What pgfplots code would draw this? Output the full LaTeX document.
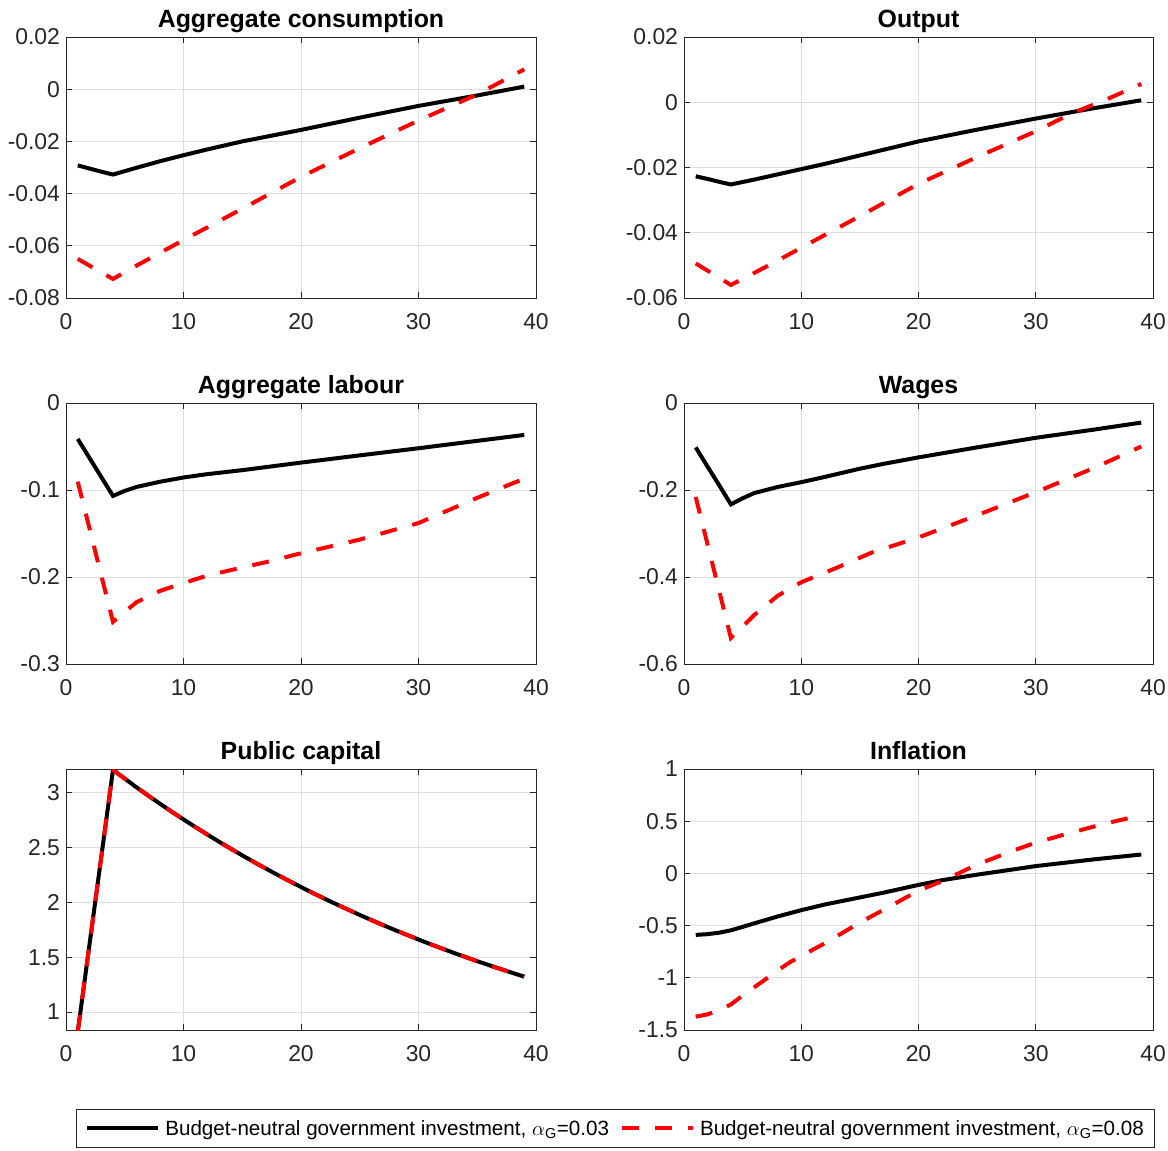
\documentclass[border=0pt]{standalone}
\usepackage{fontspec}
\setmainfont{Liberation Sans}
\usepackage{pgfplots}
\pgfplotsset{compat=1.18}

\definecolor{axisgray}{RGB}{38,38,38}
\definecolor{gridgray}{RGB}{222,222,222}

\pgfplotsset{
  irf/.style={
    scale only axis, width=470bp, height=261bp, anchor=north west,
    xmin=0, xmax=40, xtick={0,10,20,30,40},
    grid=major, major grid style={draw=gridgray, line width=0.9bp},
    axis line style={draw=axisgray, line width=1bp},
    tick style={draw=axisgray, line width=1bp},
    major tick length=6bp, tick align=inside,
    tick label style={font=\fontsize{23}{27}\selectfont, text=axisgray},
    /pgf/number format/assume math mode=true,
    yticklabel style={/pgf/number format/fixed, /pgf/number format/precision=2, xshift=-2.5bp},
    scaled y ticks=false,
    xticklabel style={yshift=-12bp},
    every axis title shift=0pt,
    title style={font=\bfseries\fontsize{25}{30}\selectfont, inner sep=0pt,
                 text depth=0.22em, yshift=7.5bp},
  },
  blk/.style={black, line width=4bp},
  rdd/.style={red, line width=4bp, dash pattern=on 17bp off 16bp},
}

\begin{document}
\begin{tikzpicture}
\path[use as bounding box] (0bp,0bp) rectangle (1168bp,-1151bp);

% Aggregate consumption
\begin{axis}[irf, at={(66bp,-37bp)}, title={Aggregate consumption},
  ymin=-0.08, ymax=0.02, ytick={-0.08,-0.06,-0.04,-0.02,0,0.02}]
\addplot[blk] coordinates {(1,-0.0292)(2,-0.0304)(3,-0.0316)(4,-0.0327)(6,-0.0301)(8,-0.0276)(10,-0.0253)(12,-0.0231)(15,-0.0200)(20,-0.0156)(25,-0.0109)(30,-0.0064)(35,-0.0024)(39,0.0010)};
\addplot[rdd] coordinates {(1,-0.0650)(2,-0.0676)(3,-0.0702)(4,-0.0727)(6,-0.0676)(8,-0.0627)(10,-0.0578)(12,-0.0530)(15,-0.0458)(20,-0.0336)(25,-0.0226)(30,-0.0120)(35,-0.0020)(39,0.0076)};
\end{axis}

% Output
\begin{axis}[irf, at={(684bp,-37bp)}, width=469bp, title={Output},
  ymin=-0.06, ymax=0.02, ytick={-0.06,-0.04,-0.02,0,0.02}]
\addplot[blk] coordinates {(1,-0.0227)(2,-0.0235)(3,-0.0244)(4,-0.0252)(6,-0.0237)(8,-0.0221)(10,-0.0205)(12,-0.0189)(15,-0.0163)(20,-0.0120)(25,-0.0084)(30,-0.0050)(35,-0.0018)(39,0.0006)};
\addplot[rdd] coordinates {(1,-0.0494)(2,-0.0516)(3,-0.0538)(4,-0.0560)(6,-0.0523)(8,-0.0485)(10,-0.0446)(12,-0.0407)(15,-0.0349)(20,-0.0250)(25,-0.0168)(30,-0.0089)(33,-0.0035)(36,0.0008)(39,0.0056)};
\end{axis}

% Aggregate labour
\begin{axis}[irf, at={(66bp,-403bp)}, title={Aggregate labour},
  ymin=-0.3, ymax=0, ytick={-0.3,-0.2,-0.1,0}]
\addplot[blk] coordinates {(1,-0.0413)(2,-0.0632)(3,-0.0850)(4,-0.1068)(5,-0.1010)(6,-0.0965)(8,-0.0905)(10,-0.0856)(12,-0.0818)(15,-0.0772)(20,-0.0685)(25,-0.0602)(30,-0.0520)(35,-0.0435)(39,-0.0367)};
\addplot[rdd] coordinates {(1,-0.0905)(2,-0.1440)(3,-0.1980)(4,-0.2515)(5,-0.2400)(6,-0.2290)(8,-0.2160)(10,-0.2070)(12,-0.1985)(15,-0.1890)(17,-0.1830)(20,-0.1727)(25,-0.1570)(30,-0.1380)(35,-0.1090)(38,-0.0924)(39,-0.0870)};
\end{axis}

% Wages
\begin{axis}[irf, at={(684bp,-403bp)}, width=469bp, title={Wages},
  ymin=-0.6, ymax=0, ytick={-0.6,-0.4,-0.2,0}]
\addplot[blk] coordinates {(1,-0.102)(2,-0.146)(3,-0.189)(4,-0.233)(5,-0.219)(6,-0.207)(8,-0.193)(10,-0.182)(12,-0.170)(15,-0.151)(17,-0.140)(20,-0.125)(25,-0.102)(30,-0.080)(35,-0.061)(39,-0.045)};
\addplot[rdd] coordinates {(1,-0.216)(2,-0.324)(3,-0.432)(4,-0.540)(5,-0.514)(6,-0.487)(8,-0.443)(10,-0.412)(13,-0.379)(16,-0.344)(20,-0.309)(25,-0.258)(30,-0.205)(35,-0.149)(39,-0.100)};
\end{axis}

% Public capital (both calibrations coincide)
\begin{axis}[irf, at={(66bp,-769bp)}, title={Public capital},
  ymin=0.836, ymax=3.218, ytick={1,1.5,2,2.5,3}]
\addplot[blk] coordinates {(1,0.82)(4,3.210)(5,3.130)(6,3.051)(7,2.975)(8,2.901)(9,2.828)(10,2.758)(11,2.689)(12,2.622)(13,2.556)(14,2.492)(15,2.430)(16,2.369)(17,2.310)(18,2.252)(19,2.196)(20,2.141)(21,2.087)(22,2.035)(23,1.984)(24,1.935)(25,1.886)(26,1.839)(27,1.793)(28,1.748)(29,1.705)(30,1.662)(31,1.620)(32,1.580)(33,1.540)(34,1.502)(35,1.464)(36,1.428)(37,1.392)(38,1.357)(39,1.323)};
\addplot[rdd] coordinates {(1,0.82)(4,3.210)(5,3.130)(6,3.051)(7,2.975)(8,2.901)(9,2.828)(10,2.758)(11,2.689)(12,2.622)(13,2.556)(14,2.492)(15,2.430)(16,2.369)(17,2.310)(18,2.252)(19,2.196)(20,2.141)(21,2.087)(22,2.035)(23,1.984)(24,1.935)(25,1.886)(26,1.839)(27,1.793)(28,1.748)(29,1.705)(30,1.662)(31,1.620)(32,1.580)(33,1.540)(34,1.502)(35,1.464)(36,1.428)(37,1.392)(38,1.357)(39,1.323)};
\end{axis}

% Inflation, carrying the shared legend
\begin{axis}[irf, at={(684bp,-769bp)}, width=469bp, title={Inflation},
  ymin=-1.5, ymax=1, ytick={-1.5,-1,-0.5,0,0.5,1},
  legend columns=2,
  legend image code/.code={\draw[#1] (0bp,0bp) -- (71bp,0bp);},
  legend style={at={(-0.146,-0.377)}, anchor=center, draw=axisgray, line width=1bp,
    font=\fontsize{20.7}{24}\selectfont, inner xsep=9bp, inner ysep=9bp,
    /tikz/every odd column/.append style={column sep=3bp},
    /tikz/every even column/.append style={column sep=9bp}},
  ]
\addplot[blk] coordinates {(1,-0.589)(2,-0.582)(3,-0.568)(4,-0.545)(5,-0.512)(6,-0.478)(8,-0.412)(10,-0.352)(12,-0.298)(15,-0.230)(17,-0.185)(20,-0.110)(22,-0.065)(25,-0.012)(30,0.070)(35,0.135)(39,0.181)};
\addlegendentry{Budget-neutral government investment, $\alpha$\textsubscript{G}=0.03}
\addplot[rdd] coordinates {(1,-1.372)(2,-1.350)(3,-1.310)(4,-1.255)(5,-1.170)(6,-1.090)(7,-1.010)(8,-0.930)(9,-0.853)(10,-0.790)(12,-0.670)(15,-0.471)(17,-0.350)(20,-0.165)(22,-0.075)(25,0.085)(28,0.215)(30,0.295)(33,0.390)(36,0.480)(39,0.557)};
\addlegendentry{Budget-neutral government investment, $\alpha$\textsubscript{G}=0.08}
\end{axis}
\end{tikzpicture}
\end{document}
